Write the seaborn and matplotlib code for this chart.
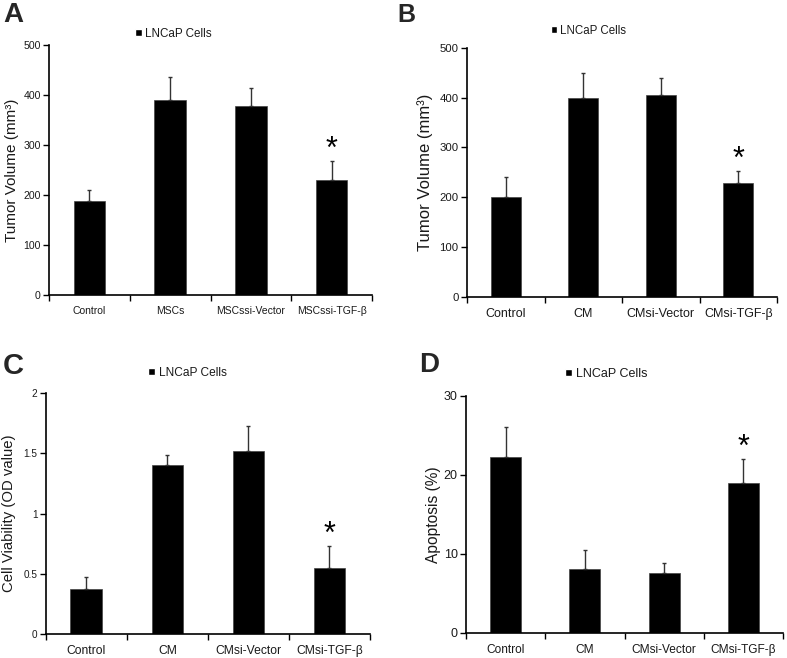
import numpy as np
import pandas as pd
import matplotlib
matplotlib.use('Agg')
import matplotlib.pyplot as plt
import seaborn as sns
from matplotlib.patches import Patch

# dados
cats_a = ['Control', 'MSCs', 'MSCssi-Vector', 'MSCssi-TGF-β']
vol_a = [187, 389, 377, 229]
vol_a_top = [210, 435, 414, 268]

cats_b = ['Control', 'CM', 'CMsi-Vector', 'CMsi-TGF-β']
vol_b = [200, 400, 405, 229]
vol_b_top = [240, 450, 439, 252]

cats_c = ['Control', 'CM', 'CMsi-Vector', 'CMsi-TGF-β']
via_c = [0.37, 1.40, 1.52, 0.55]
via_c_top = [0.47, 1.49, 1.73, 0.73]

cats_d = ['Control', 'CM', 'CMsi-Vector', 'CMsi-TGF-β']
apo_d = [22.2, 8.1, 7.6, 18.9]
apo_d_top = [26.1, 10.5, 8.8, 22.0]

sns.set_style('white')
plt.rcParams['font.family'] = ['Liberation Sans', 'DejaVu Sans']
txt = '#1a1a1a'

fig = plt.figure(figsize=(7.87, 6.58), dpi=100)

panels = [
    # cats, vals, tops, rect, ymax, yticks, yticklabels, ylabel, tamanhos(xt, yt, yl, leg, letra), legenda, letra pos, letra, labelpad
    (cats_a, vol_a, vol_a_top, [0.0623, 0.5517, 0.4104, 0.3800], 500, [0, 100, 200, 300, 400, 500], None,
     'Tumor Volume (mm³)', (7.5, 7.6, 11, 8.4, 20), (0.2205, 0.9483), (0.004, 0.977), 'A', 3),
    (cats_b, vol_b, vol_b_top, [0.5934, 0.5491, 0.3940, 0.3784], 500, [0, 100, 200, 300, 400, 500], None,
     'Tumor Volume (mm³)', (9, 8.2, 12, 8.3, 18), (0.7478, 0.9529), (0.505, 0.977), 'B', 5),
    (cats_c, via_c, via_c_top, [0.0581, 0.0365, 0.4120, 0.3658], 2, [0, 0.5, 1, 1.5, 2], ['0', '0.5', '1', '1.5', '2'],
     'Cell Viability (OD value)', (8.7, 7.2, 10.7, 8.6, 21), (0.2382, 0.4331), (0.004, 0.444), 'C', 5),
    (cats_d, apo_d, apo_d_top, [0.5921, 0.0385, 0.4030, 0.3600], 30, [0, 10, 20, 30], None,
     'Apoptosis (%)', (8.6, 9, 11.2, 9, 20), (0.770, 0.4316), (0.532, 0.445), 'D', 2),
]

for cats, vals, tops, rect, ymax, yt, ytl, ylab, sz, legpos, letpos, letter, lpad in panels:
    ax = fig.add_axes(rect)
    df = pd.DataFrame({'grupo': cats, 'valor': vals})
    sns.barplot(data=df, x='grupo', y='valor', color='black', saturation=1,
                width=0.39, errorbar=None, ax=ax, edgecolor='#444444', linewidth=0.5)
    x = np.arange(len(cats))
    vals = np.array(vals)
    up = np.array(tops) - vals
    ax.errorbar(x, vals, yerr=[np.zeros_like(up), up], fmt='none', ecolor='#333333',
                elinewidth=1.0, capsize=1.5, capthick=1.0, zorder=3)
    # asterisco no ultimo grupo
    ax.annotate('*', xy=(x[-1], tops[-1]), xytext=(0, -3), textcoords='offset points',
                ha='center', va='bottom', fontsize=22, color='black')

    ax.set_xlim(-0.5, len(cats) - 0.5)
    ax.set_ylim(0, ymax)
    ax.set_yticks(yt)
    if ytl is not None:
        ax.set_yticklabels(ytl)
    ax.set_xticks(x)
    ax.set_xticklabels(cats)
    ax.set_xticks(np.arange(len(cats) + 1) - 0.5, minor=True)
    ax.tick_params(axis='x', which='major', length=0, labelsize=sz[0], colors=txt, pad=8)
    ax.tick_params(axis='x', which='minor', length=4, width=1, color='black', direction='out', bottom=True)
    ax.tick_params(axis='y', length=4, width=1, color='black', direction='out', labelsize=sz[1],
                   labelcolor=txt, left=True, pad=2)
    ax.set_xlabel('')
    ax.set_ylabel(ylab, fontsize=sz[2], color=txt, labelpad=lpad)
    sns.despine(ax=ax)
    for s in ['left', 'bottom']:
        ax.spines[s].set_color('black')
        ax.spines[s].set_linewidth(1.2)

    fig.legend(handles=[Patch(facecolor='black', label='LNCaP Cells')], loc='center',
               bbox_to_anchor=legpos, frameon=False, fontsize=sz[3], handlelength=0.55,
               handleheight=0.55, handletextpad=0.3, labelcolor=txt, borderpad=0)
    fig.text(letpos[0], letpos[1], letter, fontsize=sz[4], fontweight='bold', va='center', ha='left')

fig.savefig('out.png', dpi=100)
